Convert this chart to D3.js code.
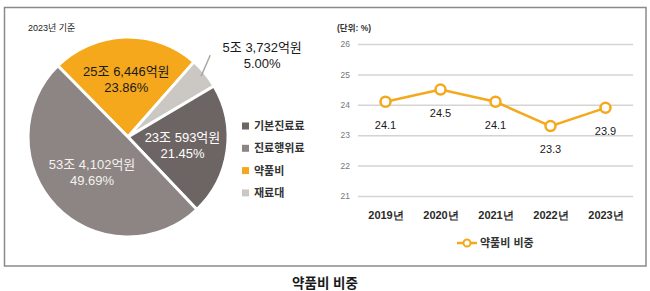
<!DOCTYPE html>
<html><head><meta charset="utf-8">
<script src="https://cdn.jsdelivr.net/npm/d3@7"></script>
<style>
html,body{margin:0;padding:0;background:#fff;}
svg{display:block;font-family:"Liberation Sans","Noto Sans CJK KR",sans-serif;}
</style></head>
<body><svg id="c" width="650" height="291"></svg>
<script>
// ---- data ----
const pieCategories = ["약품비", "재료대", "기본진료료", "진료행위료"];
const pieShares = [23.86, 5.00, 21.45, 49.69];
const pieAmounts = ["25조 6,446억원", "5조 3,732억원", "23조 593억원", "53조 4,102억원"];
const legendOrder = ["기본진료료", "진료행위료", "약품비", "재료대"];
const years = ["2019년", "2020년", "2021년", "2022년", "2023년"];
const drugShare = [24.1, 24.5, 24.1, 23.3, 23.9];
const yTicks = [21, 22, 23, 24, 25, 26];

const colors = {"약품비":"#f5a81b","재료대":"#cbc8c4","기본진료료":"#6d6464","진료행위료":"#8c8583"};
const labelColors = {"약품비":"#1a1a1a","재료대":"#1a1a1a","기본진료료":"#ffffff","진료행위료":"#f4f1f0"};

const svg = d3.select("#c");

// frame
svg.append("rect").attr("x",4.5).attr("y",7.5).attr("width",641.5).attr("height",258.5)
  .attr("fill","none").attr("stroke","#8a8a8a").attr("stroke-width",1.5);

// title
svg.append("text").attr("x",325).attr("y",288).attr("text-anchor","middle")
  .attr("font-size",13.5).attr("font-weight","bold").attr("fill","#1a1a1a").text("약품비 비중");

// ---- pie ----
const cx = 128, cy = 137, R = 100;
const g = svg.append("g").attr("transform",`translate(${cx},${cy})`);
svg.append("text").attr("x",28).attr("y",31).attr("font-size",9).attr("fill","#222").text("2023년 기준");

const pie = d3.pie().sort(null).value(d => d.v)
  .startAngle(-44.6*Math.PI/180).endAngle(-44.6*Math.PI/180 + 2*Math.PI);
const pdata = pie(pieCategories.map((c,i)=>({c, v:pieShares[i], a:pieAmounts[i]})));
const arc = d3.arc().innerRadius(0).outerRadius(R);
g.selectAll("path.s").data(pdata).join("path").attr("class","s")
  .attr("d",arc).attr("fill",d=>colors[d.data.c]).attr("stroke","#fff").attr("stroke-width",3).attr("stroke-linejoin","round");

const inner = pdata.filter(d => d.data.v >= 10);
inner.forEach(d=>{
  const mid = (d.startAngle+d.endAngle)/2;
  const lr = d.data.c==="약품비" ? 58 : (d.data.c==="기본진료료" ? 55 : 50);
  const x = lr*Math.sin(mid), y = -lr*Math.cos(mid);
  const t = g.append("text").attr("text-anchor","middle").attr("font-size",13).attr("fill",labelColors[d.data.c]);
  t.append("tspan").attr("x",x).attr("y",y-3).text(d.data.a);
  t.append("tspan").attr("x",x).attr("y",y+13).text(d.data.v.toFixed(2)+"%");
});
pdata.filter(d => d.data.v < 10).forEach(d=>{
  const mid = (d.startAngle+d.endAngle)/2;
  const p1 = [95*Math.sin(mid), -95*Math.cos(mid)];
  const p2 = [116*Math.sin(mid-0.09), -116*Math.cos(mid-0.09)];
  g.append("line").attr("x1",p1[0]).attr("y1",p1[1]).attr("x2",p2[0]).attr("y2",p2[1])
    .attr("stroke","#a9a6a3").attr("stroke-width",1.5);
  const t = g.append("text").attr("text-anchor","middle").attr("font-size",13).attr("fill","#1a1a1a");
  t.append("tspan").attr("x",p2[0]+52).attr("y",p2[1]-3).text(d.data.a);
  t.append("tspan").attr("x",p2[0]+52).attr("y",p2[1]+13).text(d.data.v.toFixed(2)+"%");
});

// legend
const lg = svg.append("g").attr("transform","translate(242,126)");
legendOrder.forEach((c,i)=>{
  const y = i*22.3;
  lg.append("rect").attr("x",0).attr("y",y-3.5).attr("width",7).attr("height",7).attr("fill",colors[c]);
  lg.append("text").attr("x",12).attr("y",y+4).attr("font-size",11).attr("font-weight","bold").attr("fill","#333").text(c);
});

// ---- line chart ----
const x = d3.scalePoint().domain(years).range([358,633]).padding(0.5);
const y = d3.scaleLinear().domain([21,26]).range([196,44]);

svg.append("text").attr("x",337).attr("y",31).attr("font-size",8.5).attr("font-weight","bold").attr("fill","#333").text("(단위: %)");

const yAxis = svg.append("g").attr("transform","translate(358,0)")
  .call(d3.axisLeft(y).tickValues(yTicks).tickSize(-275).tickFormat(d3.format("d")).tickPadding(8));
yAxis.select(".domain").remove();
yAxis.selectAll(".tick line").attr("stroke","#d4d4d4").attr("stroke-width",1.5);
yAxis.selectAll(".tick text").attr("font-size",8.5).attr("fill","#777").attr("font-family","inherit");

const xAxis = svg.append("g").attr("transform","translate(0,196)")
  .call(d3.axisBottom(x).tickSize(0).tickPadding(15));
xAxis.select(".domain").remove();
xAxis.selectAll(".tick text").attr("font-size",11).attr("font-weight","bold").attr("fill","#2a2a2a").attr("font-family","inherit");

const pts = years.map((yr,i)=>({yr, v:drugShare[i]}));
svg.append("path").datum(pts)
  .attr("d", d3.line().x(d=>x(d.yr)).y(d=>y(d.v)))
  .attr("fill","none").attr("stroke","#f5a81b").attr("stroke-width",2.5);
svg.selectAll("circle.m").data(pts).join("circle").attr("class","m")
  .attr("cx",d=>x(d.yr)).attr("cy",d=>y(d.v)).attr("r",5)
  .attr("fill","#fff").attr("stroke","#f5a81b").attr("stroke-width",2.5);
svg.selectAll("text.v").data(pts).join("text").attr("class","v")
  .attr("x",d=>x(d.yr)).attr("y",d=>y(d.v)+27).attr("text-anchor","middle")
  .attr("font-size",11).attr("fill","#1a1a1a").text(d=>d.v.toFixed(1));

// line legend
const ll = svg.append("g").attr("transform","translate(457,243)");
ll.append("line").attr("x1",0).attr("x2",20).attr("y1",0).attr("y2",0).attr("stroke","#f5a81b").attr("stroke-width",2.5);
ll.append("circle").attr("cx",10).attr("cy",0).attr("r",3.5).attr("fill","#fff").attr("stroke","#f5a81b").attr("stroke-width",2);
ll.append("text").attr("x",23).attr("y",4).attr("font-size",11).attr("font-weight","bold").attr("fill","#333").text("약품비 비중");
</script></body></html>
